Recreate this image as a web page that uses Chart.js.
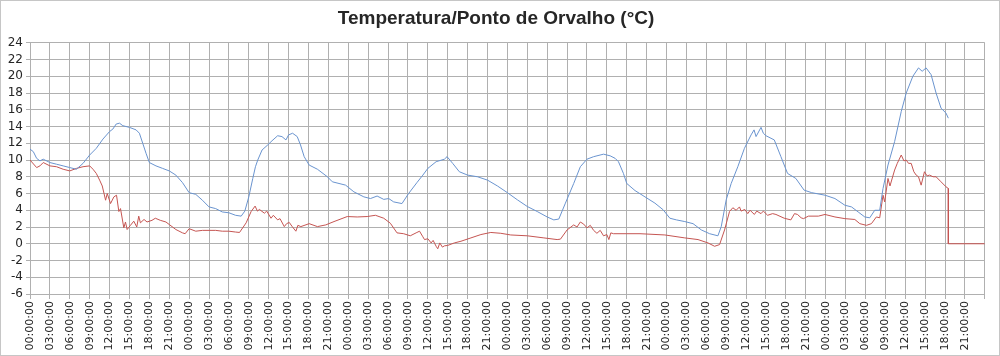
<!DOCTYPE html>
<html>
<head>
<meta charset="utf-8">
<script src="https://cdn.jsdelivr.net/npm/chart.js@4.4.1/dist/chart.umd.min.js"></script>
<style>
html,body{margin:0;padding:0;background:#fff;}
#wrap{width:1000px;height:356px;position:relative;}
</style>
</head>
<body>
<div id="wrap"><canvas id="c"></canvas></div>
<script>
const titleText = "Temperatura/Ponto de Orvalho (°C)";
const seriesNames = ["Temperatura", "Ponto de Orvalho"];
const yTicks = [-6, -4, -2, 0, 2, 4, 6, 8, 10, 12, 14, 16, 18, 20, 22, 24];
const xTickLabels = ["00:00:00","03:00:00","06:00:00","09:00:00","12:00:00","15:00:00","18:00:00","21:00:00"];

// Temperature (hours since start, °C)
const tempHours = [0,0.5,1,1.5,2,3,4,5,6,7,8,9,10,11,12,12.5,13,13.5,14,15,16,16.5,17,17.5,18,19,20,21,22,23,24,25,26,27,28,29,30,31,31.85,32.4,33,33.6,34,34.35,35,35.85,36.5,37.35,38,38.6,39,39.6,40.3,40.8,41.35,42.1,43.35,44.85,45.6,47.6,48.85,50.35,51.35,52.35,53.35,54.1,54.85,56.1,57.1,58.35,59.25,60,61.25,62.5,62.9,63.75,64.75,66,67.5,69,70.5,72,73.5,75,76.5,78,79,79.75,80.75,82,83,84,85,86.5,87.5,88.25,88.75,89.5,90,91.25,92.75,94.25,95.5,96.5,97.5,98.75,100,101.25,102.5,103.75,104.25,105,105.75,106.75,107.75,108.75,109.2,109.5,110.25,110.6,111,112.25,113.25,114.25,115.5,116.75,117.9,119.9,121.4,122.9,123.9,124.9,125.9,126.65,127.4,128.15,128.65,129.4,130.4,131.4,132.15,133.15,134,134.55,135.15,135.9,136.65,137.4,138.15,138.5];
const tempValues = [11.3,11.0,10.2,9.9,10.1,9.7,9.5,9.3,9.1,8.9,9.6,10.6,11.4,12.5,13.4,13.7,14.3,14.4,14.1,13.9,13.6,13.2,12.0,10.8,9.7,9.3,9.0,8.7,8.2,7.3,6.1,5.9,5.2,4.4,4.2,3.8,3.7,3.4,3.3,3.9,5.6,7.8,9.2,10.0,11.2,11.8,12.3,12.9,12.8,12.4,13.0,13.2,12.8,11.8,10.4,9.4,8.9,8.0,7.4,7.0,6.2,5.6,5.4,5.7,5.3,5.4,5.0,4.8,6.0,7.3,8.2,9.0,9.8,10.1,10.4,9.6,8.6,8.2,8.0,7.6,6.9,6.1,5.25,4.45,3.85,3.2,2.85,2.95,4.85,7.2,9.2,10.1,10.4,10.7,10.5,10.2,9.8,8.4,7.2,6.35,5.6,4.85,4.05,3.05,2.85,2.65,2.4,1.65,1.2,0.95,2.05,5.25,7.2,9.2,11.4,13.0,13.6,12.8,13.9,13.2,12.9,12.4,10.4,8.4,7.8,6.4,6.1,5.8,5.4,4.6,4.4,3.8,3.2,3.1,4.0,4.0,6.6,9.4,12.2,15.8,18.0,20.0,21.0,20.6,21.0,20.2,18.0,16.2,15.6,15.0];

// Dew point (hours since start, °C)
const dewHours = [0,1,1.5,2,3,4,5,6,7,8,9,9.5,10,10.5,10.9,11.4,11.65,12.15,12.65,13.05,13.4,13.65,14.15,14.4,14.65,15.15,15.65,16.1,16.4,16.65,17.2,17.65,18.4,18.9,19.65,20.5,21,22,23,23.4,24,25,26,27,28,29,30,31,31.6,32.6,33.35,33.95,34.3,34.6,35.35,35.7,36.35,36.7,37.35,37.7,38.35,38.7,39.1,39.5,40.1,40.4,40.85,42.1,43.35,44.6,45.85,47.85,49.35,50.85,52.1,53.35,54.35,55.35,56.35,57.35,58.35,58.75,59.2,59.5,60,60.5,60.8,61.25,61.5,61.8,62.2,62.5,63,63.5,64,65,66.5,68,69.5,71,72.5,75,77.5,79.5,80,81,82,82.5,83,83.5,84,84.5,85,85.5,86,86.5,87,87.3,87.6,88,90,92,95.75,98.75,100.75,102.25,103.25,104,104.75,105.5,106,106.5,107,107.25,107.8,108.25,108.6,109.25,109.6,110.25,110.6,111.25,112,112.5,113.75,114.75,115.3,115.75,116.3,116.65,117.4,118.9,119.9,121.4,122.9,124.4,125.15,126.15,126.9,127.65,128.15,128.65,128.9,129.4,129.7,130.4,130.8,131.4,131.8,132.15,132.5,132.9,133.3,133.65,134,134.4,134.9,135.3,135.65,136.2,136.65,137.4,138.15,138.5,138.5,144];
const dewValues = [10.0,9.1,9.3,9.7,9.3,9.2,8.9,8.7,9.0,9.2,9.3,8.9,8.4,7.6,6.9,5.2,6.0,4.8,5.6,5.8,3.85,4.2,1.9,2.6,1.7,2.2,2.7,2.0,3.3,2.5,2.9,2.6,2.8,3.05,2.8,2.6,2.3,1.7,1.3,1.2,1.8,1.5,1.6,1.6,1.6,1.5,1.5,1.4,1.35,2.5,3.85,4.5,3.9,4.1,3.65,3.9,3.05,3.4,2.85,3.0,2.05,2.4,2.55,2.1,1.5,2.2,2.05,2.4,2.05,2.25,2.65,3.25,3.2,3.25,3.4,3.05,2.45,1.3,1.2,0.95,1.35,1.5,0.9,0.5,0.6,0.1,0.4,-0.3,-0.6,0.1,-0.4,-0.25,-0.2,-0.05,0.1,0.3,0.7,1.1,1.35,1.25,1.05,0.95,0.7,0.5,0.55,1.65,2.25,2.0,2.6,2.35,1.9,2.2,1.6,1.25,1.6,0.95,1.1,0.5,1.3,1.2,1.2,1.2,1.05,0.7,0.5,0.1,-0.3,-0.1,1.65,3.85,4.3,4.0,4.4,3.9,4.1,3.6,4.0,3.5,3.9,3.6,3.9,3.4,3.6,3.5,3.05,2.85,3.6,3.5,3.1,3.0,3.3,3.3,3.5,3.2,3.0,2.9,2.4,2.2,2.4,3.2,3.1,5.8,5.0,7.8,6.9,8.8,9.6,10.6,9.9,10.0,9.6,9.6,8.6,8.2,8.0,7.0,8.6,8.1,8.2,8.0,8.0,7.4,6.8,6.6,0,0];

const toPoints = (hs, vs) => hs.map((h, i) => ({x: h, y: vs[i]}));

const frame = {
  id: 'frame',
  beforeDraw(chart) {
    const ctx = chart.ctx;
    ctx.save();
    ctx.fillStyle = '#ffffff';
    ctx.fillRect(0, 0, chart.width, chart.height);
    ctx.strokeStyle = '#c6c6c6';
    ctx.lineWidth = 1;
    ctx.strokeRect(0.5, 0.5, chart.width - 1, chart.height - 1);
    ctx.restore();
  }
};

const gridColor = '#b0b0b0';

new Chart(document.getElementById('c'), {
  type: 'line',
  data: {
    datasets: [
      {label: seriesNames[0], data: toPoints(tempHours, tempValues), borderColor: '#6a94cf', borderWidth: 1, pointRadius: 0, tension: 0, fill: false},
      {label: seriesNames[1], data: toPoints(dewHours, dewValues), borderColor: '#c55552', borderWidth: 1, pointRadius: 0, tension: 0, fill: false}
    ]
  },
  options: {
    responsive: true,
    maintainAspectRatio: false,
    animation: false,
    layout: {padding: {left: 0, right: 8, top: 0, bottom: 0}},
    plugins: {
      legend: {display: false},
      tooltip: {enabled: false},
      title: {
        display: true,
        text: titleText,
        color: '#262626',
        font: {family: 'Liberation Sans', size: 19, weight: 'bold', lineHeight: 1.2},
        padding: {top: 7, bottom: 13}
      }
    },
    scales: {
      x: {
        type: 'linear',
        min: 0,
        max: 144,
        afterFit(s) { s.height = 62; },
        grid: {color: gridColor, tickLength: 5, drawTicks: true},
        border: {color: gridColor},
        ticks: {
          stepSize: 3,
          autoSkip: false,
          maxRotation: 90,
          minRotation: 90,
          padding: 2,
          color: '#262626',
          font: {family: 'DejaVu Sans', size: 11},
          callback: (v) => v >= 144 ? '' : xTickLabels[(v % 24) / 3]
        }
      },
      y: {
        min: -6,
        max: 24,
        afterFit(s) { s.width = 30; },
        afterBuildTicks(s) { s.ticks = yTicks.map(v => ({value: v})); },
        grid: {color: gridColor, tickLength: 4},
        border: {color: gridColor},
        ticks: {
          autoSkip: false,
          padding: 3,
          color: '#262626',
          font: {family: 'DejaVu Sans', size: 12}
        }
      }
    }
  },
  plugins: [frame]
});
</script>
</body>
</html>
